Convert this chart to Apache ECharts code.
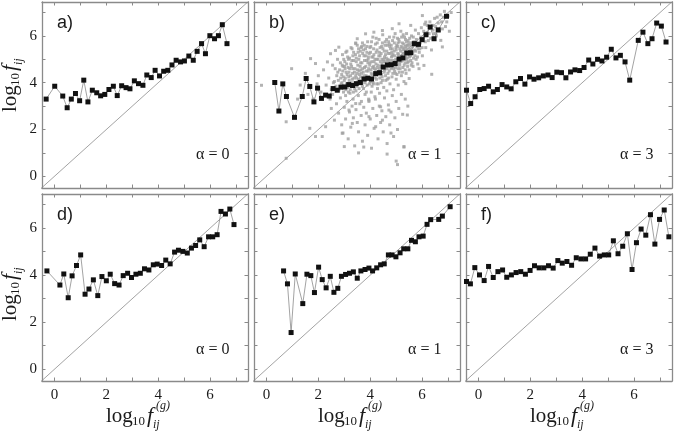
<!DOCTYPE html>
<html>
<head>
<meta charset="utf-8">
<script src="https://cdn.jsdelivr.net/npm/echarts@6/dist/echarts.min.js"></script>
<style>html,body{margin:0;padding:0;background:#fff;}#c{width:675px;height:433px;}</style>
</head>
<body>
<div id="c"></div>
<script>
// ---------- DATA ----------
const labelTicks = [0, 2, 4, 6];
const allTicks = [0, 1, 2, 3, 4, 5, 6, 7];
const panelLabels = ['a)', 'b)', 'c)', 'd)', 'e)', 'f)'];
const alphaLabels = ['α = 0', 'α = 1', 'α = 3', 'α = 0', 'α = 1', 'α = 3'];
const diagonal = [[-0.6, -0.6], [7.6, 7.6]];

const panelA = [[-0.32,3.30],[0.01,3.85],[0.32,3.43],[0.49,2.93],[0.65,3.30],[0.81,3.54],[0.97,3.23],[1.13,4.11],[1.29,3.18],[1.46,3.68],[1.63,3.57],[1.78,3.44],[1.94,3.50],[2.10,3.71],[2.27,3.85],[2.42,3.45],[2.59,3.87],[2.76,3.79],[2.91,3.74],[3.08,4.08],[3.24,3.96],[3.41,3.89],[3.56,4.33],[3.73,4.22],[3.88,4.53],[4.05,4.29],[4.21,4.49],[4.37,4.53],[4.53,4.76],[4.69,4.96],[4.86,4.89],[5.01,4.93],[5.18,5.14],[5.35,4.96],[5.50,5.34],[5.67,5.67],[5.82,5.24],[5.99,6.01],[6.17,5.88],[6.32,6.01],[6.47,6.48],[6.65,5.67]];

const panelB = [[0.32,4.01],[0.48,2.79],[0.63,3.95],[0.77,3.41],[1.08,2.52],[1.38,3.41],[1.53,4.18],[1.67,3.84],[1.83,3.18],[1.97,3.77],[2.12,3.33],[2.28,3.47],[2.42,3.43],[2.57,3.75],[2.73,3.68],[2.87,3.81],[3.02,3.82],[3.17,3.92],[3.32,3.88],[3.46,3.96],[3.62,4.01],[3.76,4.16],[3.91,4.19],[4.05,4.16],[4.21,4.39],[4.36,4.43],[4.50,4.67],[4.66,4.76],[4.81,4.77],[4.96,4.82],[5.11,5.01],[5.26,5.06],[5.41,5.27],[5.56,5.28],[5.70,5.67],[5.86,5.64],[6.00,5.84],[6.15,6.05],[6.31,6.38],[6.46,5.88],[6.62,6.26],[6.94,6.84]];

const panelC = [[-0.46,3.68],[-0.30,3.11],[-0.13,3.40],[0.05,3.71],[0.22,3.75],[0.39,3.85],[0.57,3.61],[0.73,3.71],[0.91,3.92],[1.09,3.82],[1.26,3.74],[1.44,4.04],[1.62,4.18],[1.79,3.94],[1.97,4.25],[2.14,4.15],[2.32,4.21],[2.50,4.29],[2.68,4.33],[2.84,4.22],[3.02,4.45],[3.20,4.43],[3.37,4.21],[3.55,4.46],[3.72,4.55],[3.90,4.52],[4.07,4.65],[4.25,4.97],[4.41,4.80],[4.59,5.00],[4.76,4.93],[4.94,5.09],[5.12,5.43],[5.30,5.06],[5.47,5.17],[5.65,4.89],[5.83,4.11],[6.16,5.81],[6.34,6.16],[6.53,5.67],[6.69,5.88],[6.87,6.55],[7.05,6.42],[7.23,5.74]];

const panelD = [[-0.29,4.18],[0.21,3.58],[0.36,4.05],[0.53,3.04],[0.68,3.97],[0.85,4.41],[1.01,4.86],[1.18,3.19],[1.33,3.41],[1.50,3.80],[1.67,3.13],[1.83,3.94],[2.00,3.76],[2.15,4.04],[2.32,3.64],[2.49,3.58],[2.65,3.98],[2.82,4.08],[2.97,3.90],[3.14,4.04],[3.31,4.08],[3.47,4.27],[3.64,4.22],[3.81,4.44],[3.96,4.47],[4.13,4.41],[4.29,4.64],[4.46,4.48],[4.63,4.98],[4.78,5.06],[4.95,5.01],[5.12,4.94],[5.28,5.15],[5.44,5.26],[5.60,5.50],[5.77,5.21],[5.94,5.63],[6.10,5.63],[6.27,5.72],[6.42,6.71],[6.59,6.60],[6.76,6.81],[6.92,6.15]];

const panelE = [[0.66,4.18],[0.81,3.63],[0.95,1.56],[1.11,4.05],[1.40,2.79],[1.56,4.04],[1.71,3.98],[1.85,3.26],[2.01,4.34],[2.15,3.81],[2.30,3.46],[2.46,3.95],[2.60,3.27],[2.75,3.44],[2.89,3.95],[3.05,4.03],[3.20,4.08],[3.35,4.14],[3.50,3.87],[3.64,4.18],[3.80,4.24],[3.95,4.30],[4.09,4.18],[4.25,4.31],[4.40,4.44],[4.54,4.48],[4.70,4.86],[4.84,4.86],[4.99,4.78],[5.15,4.95],[5.29,5.12],[5.45,5.12],[5.59,5.48],[5.74,5.42],[5.88,5.63],[6.04,5.66],[6.19,6.16],[6.33,6.36],[6.64,6.37],[6.78,6.51],[7.08,6.91]];

const panelF = [[-0.46,3.73],[-0.31,3.63],[-0.14,4.32],[0.04,4.01],[0.22,3.77],[0.39,4.37],[0.57,3.90],[0.75,4.15],[0.93,4.22],[1.09,3.91],[1.27,4.01],[1.45,4.11],[1.63,4.15],[1.81,4.04],[1.99,4.20],[2.16,4.40],[2.34,4.31],[2.52,4.31],[2.70,4.40],[2.88,4.30],[3.06,4.62],[3.23,4.51],[3.41,4.58],[3.59,4.42],[3.77,4.74],[3.95,4.69],[4.13,4.69],[4.31,4.89],[4.49,5.15],[4.67,4.81],[4.85,4.86],[5.02,4.86],[5.20,5.46],[5.38,4.91],[5.56,5.23],[5.74,5.76],[5.92,4.24],[6.09,5.38],[6.27,5.96],[6.45,5.70],[6.63,6.57],[6.80,5.32],[6.98,6.37],[7.16,6.77],[7.34,5.63]];

// gray cloud of individual links in panel b
const cloudB = [
[2.62,4.05],[2.65,4.6],[2.68,3.85],[2.71,4.3],[2.74,5.0],[2.77,4.1],[2.8,3.7],[2.82,4.55],[2.85,4.85],[2.88,3.95],[2.9,4.35],[2.93,5.2],[2.95,4.7],[2.97,3.6],
[3.0,4.1],[3.02,4.9],[3.05,3.45],[3.07,4.45],[3.1,5.35],[3.12,3.8],[3.15,4.65],[3.17,4.25],[3.2,5.05],[3.22,3.55],[3.25,4.8],[3.27,4.0],[3.3,5.45],[3.32,4.4],[3.34,3.3],[3.36,4.95],[3.38,3.9],
[3.41,4.6],[3.43,5.2],[3.45,3.65],[3.47,4.2],[3.5,5.6],[3.52,4.75],[3.54,3.45],[3.56,5.0],[3.58,4.35],[3.6,3.95],[3.62,5.35],[3.64,4.55],[3.66,3.2],[3.68,4.85],[3.7,5.7],[3.72,4.15],
[3.74,3.75],[3.76,5.15],[3.78,4.65],[3.8,3.5],[3.82,5.45],[3.84,4.3],[3.86,4.95],[3.88,3.9],[3.9,5.75],[3.92,4.5],[3.94,3.3],[3.96,5.25],[3.98,4.75],[4.0,4.05],
[4.02,5.55],[4.04,3.6],[4.06,4.9],[4.08,4.35],[4.1,5.95],[4.12,3.95],[4.14,5.2],[4.16,4.6],[4.18,3.4],[4.2,5.65],[4.22,4.8],[4.24,4.15],[4.26,5.4],[4.28,3.75],[4.3,5.0],
[4.32,4.45],[4.34,5.85],[4.36,3.55],[4.38,5.15],[4.4,4.7],[4.42,4.0],[4.44,5.55],[4.46,4.25],[4.48,6.05],[4.5,4.9],[4.52,3.8],[4.54,5.35],[4.56,4.55],[4.58,5.75],[4.6,4.1],
[4.62,5.05],[4.64,3.65],[4.66,5.6],[4.68,4.4],[4.7,5.25],[4.72,4.85],[4.74,5.95],[4.76,3.95],[4.78,5.45],[4.8,4.6],[4.82,5.1],[4.84,4.25],[4.86,5.8],[4.88,4.95],[4.9,3.7],
[4.92,5.35],[4.94,4.5],[4.96,6.1],[4.98,5.0],[5.0,4.15],[5.02,5.6],[5.04,4.75],[5.06,5.25],[5.08,3.9],[5.1,5.85],[5.12,4.45],[5.14,5.45],[5.16,4.95],[5.18,6.2],[5.2,4.3],
[5.22,5.15],[5.24,5.7],[5.26,4.65],[5.28,5.4],[5.3,4.05],[5.32,5.95],[5.34,4.85],[5.36,5.55],[5.38,4.4],[5.4,6.1],[5.42,5.05],[5.44,4.7],[5.46,5.8],[5.48,5.3],
[5.5,4.55],[5.53,5.6],[5.56,4.95],[5.59,6.0],[5.62,5.25],[5.65,4.7],[5.68,5.75],[5.71,5.4],[5.74,6.25],[5.77,5.0],[5.8,5.55],[5.83,4.8],[5.86,6.1],[5.89,5.3],
[5.93,5.7],[5.97,6.35],[6.01,5.15],[6.05,5.9],[6.1,6.5],[6.14,5.5],[6.19,6.15],[6.24,5.8],[6.3,6.6],[6.36,5.4],[6.42,6.25],[6.48,6.75],
[6.55,6.0],[6.62,6.55],[6.7,6.9],[6.78,6.3],[6.86,7.05],[6.95,6.6],[7.05,6.2],[7.12,7.0],
[3.03,4.6],[3.08,3.95],[3.13,5.1],[3.18,4.45],[3.23,3.7],[3.28,4.7],[3.33,5.15],[3.37,4.2],[3.42,3.95],[3.46,4.9],[3.49,4.4],[3.53,5.3],[3.57,3.75],[3.61,4.7],[3.65,5.5],[3.69,4.0],[3.73,4.45],[3.77,5.6],[3.81,4.1],[3.85,3.6],[3.87,5.3],[3.91,4.85],[3.95,4.25],[3.99,5.5],[4.03,4.55],[4.07,3.85],[4.11,5.1],[4.15,4.9],[4.19,4.4],[4.23,5.9],[4.27,4.65],[4.31,3.95],[4.35,5.3],[4.39,4.9],[4.43,4.35],[4.47,5.7],[4.51,4.65],[4.55,5.1],[4.59,4.3],[4.63,5.85],[4.67,4.95],[4.71,4.2],[4.75,5.55],[4.79,4.8],[4.83,5.3],[4.87,4.4],[4.91,5.95],[4.95,4.85],[4.99,5.5],[5.03,4.35],[5.07,5.7],[5.11,5.1],[5.15,4.6],[5.19,5.55],[5.23,4.95],[5.27,6.05],[5.31,5.25],[5.35,4.55],[5.39,5.75],[5.43,5.45],[5.47,4.9],[5.52,5.9],[5.57,5.4],[5.61,4.85],[5.66,5.95],[5.72,5.15],[5.78,5.85],[5.84,5.45],
[2.75,4.45],[2.86,4.2],[2.92,4.75],[2.98,5.0],[3.06,5.3],[3.16,3.6],[3.26,5.5],[3.35,3.6],[3.44,5.7],[3.55,4.15],[3.63,4.25],[3.71,5.25],[3.83,4.7],[3.93,5.1],[4.05,5.75],[4.13,4.7],[4.25,5.0],[4.37,4.2],[4.45,5.0],[4.57,4.9],[4.65,4.6],[4.73,5.65],[4.85,5.15],[4.97,4.65],[5.05,5.9],[5.13,4.85],[5.25,5.5],[5.37,5.1],[5.45,5.6],[5.55,5.15],[5.63,5.55],
[2.91,4.0],[2.94,4.5],[2.96,4.25],[2.99,3.8],[3.01,4.7],[3.04,4.2],[3.06,3.7],[3.09,4.8],[3.11,4.35],[3.14,3.9],[3.16,5.0],[3.19,4.1],[3.21,4.6],[3.24,4.3],[3.26,3.85],[3.29,4.95],[3.31,4.15],[3.33,4.6],[3.36,5.3],[3.39,4.45],[3.4,3.75],[3.44,4.3],[3.46,5.05],[3.48,3.85],[3.51,4.55],[3.53,4.05],[3.55,5.45],[3.57,4.5],[3.59,5.15],[3.61,4.1],[3.63,4.85],[3.66,4.4],[3.67,5.55],[3.7,3.85],[3.71,4.6],[3.74,5.4],[3.76,4.3],[3.78,4.95],[3.8,4.0],[3.83,5.15],[3.85,4.5],[3.88,5.55],[3.89,4.2],[3.92,5.0],[3.94,4.6],[3.97,3.95],[3.99,4.85],[4.01,5.3],[4.04,4.4],[4.06,5.1],[4.09,4.65],[4.11,4.0],[4.13,5.45],[4.16,4.25],[4.18,5.0],[4.21,4.55],[4.23,5.3],[4.25,3.95],[4.27,5.7],[4.3,4.75],[4.33,5.15],[4.35,4.6],[4.38,5.5],[4.4,4.35],[4.42,5.25],[4.45,4.8],[4.47,4.1],[4.49,5.45],[4.52,5.0],[4.54,4.45],[4.57,5.6],[4.59,5.2],[4.61,4.7],[4.64,5.35],[4.66,4.15],[4.69,5.0],[4.71,5.75],[4.73,4.5],[4.76,5.25],[4.78,4.95],[4.81,5.6],[4.83,4.65],[4.85,5.45],[4.88,5.2],[4.9,4.6],[4.93,5.7],[4.95,5.15],[4.97,4.4],[5.0,5.4],[5.02,4.9],[5.05,5.55],[5.07,4.6],[5.09,5.2],[5.12,5.75],[5.14,4.75],[5.17,5.35],[5.19,4.9],[5.21,5.95],[5.24,4.45],[5.26,5.25],[5.29,5.65],[5.31,4.75],[5.33,5.45],[5.36,5.85],[5.38,5.0],[5.41,5.6],[5.43,4.85],[5.46,5.3],[5.49,5.7],[5.51,5.1],[5.54,5.45],[5.58,4.75],[5.6,5.7],[5.64,5.3],[5.67,5.05],[5.7,5.6],[5.75,5.35],[5.79,5.7],[5.82,5.1],[5.87,5.6],[5.91,5.45],[5.95,5.95],[6.0,5.5],[6.06,6.2],[6.12,5.75],[6.2,6.45],[6.27,6.1],[6.33,5.9],[6.4,6.45],[6.46,6.1],[6.52,6.4],[6.58,6.8],[6.66,6.2],[6.75,6.6],[6.82,6.8],[6.9,6.4],[7.0,6.85],
[2.45,3.3],[2.5,2.9],[2.55,3.5],[2.62,2.4],[2.7,3.1],[2.78,2.7],[2.85,3.35],[2.9,2.2],[2.95,1.85],[3.0,2.95],[3.05,2.45],[3.1,3.2],[3.15,1.6],[3.2,2.75],[3.25,2.1],[3.3,3.0],[3.35,2.5],[3.4,1.3],[3.45,2.85],[3.5,2.3],[3.55,1.9],[3.6,3.1],[3.65,2.6],[3.7,1.5],[3.75,2.95],[3.8,2.2],[3.85,2.7],[3.9,1.75],[3.95,3.2],[4.0,2.45],[4.05,1.2],[4.1,2.9],[4.15,2.05],[4.2,3.3],[4.25,2.6],[4.3,1.6],[4.35,3.0],[4.4,2.3],[4.45,2.8],[4.5,1.9],[4.55,3.35],[4.6,2.55],[4.65,1.4],[4.7,3.05],[4.75,2.2],[4.8,2.75],[4.85,3.45],[4.9,1.7],[4.95,2.5],[5.0,3.2],[5.05,2.0],[5.1,2.9],[5.2,3.5],[5.25,2.65],[5.35,3.3],[5.45,3.0],[5.3,1.25],[5.0,0.65],[5.05,0.5],[4.65,0.95],[4.8,1.85],[3.75,1.25],[3.55,1.0],[3.0,1.27],[2.92,1.84],[2.15,1.7],[2.28,2.12],
[-0.19,3.89],[0.76,2.33],[0.76,0.77],[0.97,4.6],[1.67,2.05],[1.89,1.70],[1.7,5.03],[1.89,4.82],[2.0,4.3],[2.1,3.6],[2.2,4.55],[2.3,3.9],[2.35,4.89],[2.4,4.2],[2.47,5.24],[2.55,4.75],[2.66,5.38],[2.79,5.52],[2.5,3.7],[2.58,4.0],[3.44,5.67],[3.5,5.88],[3.82,6.09],[4.14,6.16],[4.47,6.23],[4.85,6.31],[5.11,6.52],[5.56,6.45],[6.01,6.87],[6.14,6.59],[6.53,6.09],[6.72,5.81],[6.78,5.53],[6.37,4.36],[6.07,4.74],[5.88,4.60],[5.5,4.18],[5.37,3.96],[5.43,2.62],[5.3,1.27],[3.18,2.83],[3.44,3.11],[3.31,2.26],[3.95,2.55],[4.21,2.12],[4.47,2.40],[4.72,2.83],[4.40,2.97],[3.95,3.25],[1.3,3.9],[1.5,4.4],[1.6,3.5],[1.8,3.3],[1.95,3.95],[1.2,3.3]
];

const panels = [panelA, panelB, panelC, panelD, panelE, panelF];

// ---------- LAYOUT ----------
const X_MIN = -0.48, X_MAX = 7.46, Y_MIN = -0.5, Y_MAX = 7.45;
const lefts = [42, 254, 466], tops = [2, 194], W = 206, Hs = [186, 187];
const AX = '#8a8a8a', TXT = '#1a1a1a', SERIF = '"Liberation Serif","Times New Roman",serif';

const grid = [], xAxis = [], yAxis = [], series = [], graphic = [];

function mkAxis(gi, pos, isY, showLabel) {
  return {
    type: 'value', gridIndex: gi, position: pos,
    min: isY ? Y_MIN : X_MIN, max: isY ? Y_MAX : X_MAX,
    splitLine: { show: false },
    axisLine: { show: true, onZero: false, lineStyle: { color: AX, width: 1.3 } },
    axisTick: { show: true, inside: true, length: 3.5, customValues: allTicks, lineStyle: { color: AX, width: 1 } },
    axisLabel: { show: showLabel, customValues: labelTicks, margin: isY ? 5 : 7, fontFamily: SERIF, fontSize: 15, color: TXT }
  };
}

for (let i = 0; i < 6; i++) {
  const r = Math.floor(i / 3), c = i % 3;
  grid.push({ left: lefts[c], top: tops[r], width: W, height: Hs[r] });
  const xb = xAxis.length, yb = yAxis.length;
  xAxis.push(mkAxis(i, 'bottom', false, r === 1));
  xAxis.push(mkAxis(i, 'top', false, false));
  yAxis.push(mkAxis(i, 'left', true, c === 0));
  yAxis.push(mkAxis(i, 'right', true, false));

  series.push({ type: 'line', xAxisIndex: xb, yAxisIndex: yb, data: diagonal, symbol: 'none', silent: true,
    lineStyle: { color: '#8c8c8c', width: 0.8 }, z: 1 });
  if (i === 1) {
    series.push({ type: 'scatter', xAxisIndex: xb, yAxisIndex: yb, data: cloudB, symbol: 'rect', symbolSize: 3,
      itemStyle: { color: '#a0a0a0' }, silent: true, z: 2 });
  }
  series.push({ type: 'line', xAxisIndex: xb, yAxisIndex: yb, data: panels[i], symbol: 'rect', symbolSize: 5,
    showAllSymbol: true, itemStyle: { color: '#111', borderWidth: 0 }, lineStyle: { color: '#8c8c8c', width: 0.8 }, z: 3 });

  graphic.push({ type: 'text', left: lefts[c] + 15, top: tops[r] + 12,
    style: { text: panelLabels[i], font: '18px "Liberation Sans", Arial, sans-serif', fill: TXT } });
  graphic.push({ type: 'text', left: lefts[c] + 154, top: tops[r] + (r === 0 ? 145 : 148),
    style: { text: alphaLabels[i], font: '16px ' + SERIF, fill: TXT } });
}

// axis titles: log10 f_ij (y) and log10 f_ij^(g) (x)
function titleParts(withG) {
  const parts = [
    { type: 'text', x: 0, y: 0, style: { text: 'log', font: '21px ' + SERIF, fill: TXT, verticalAlign: 'middle' } },
    { type: 'text', x: 26, y: 6, style: { text: '10', font: '13px ' + SERIF, fill: TXT, verticalAlign: 'middle' } },
    { type: 'text', x: 41, y: 0, style: { text: 'f', font: 'italic 22px ' + SERIF, fill: TXT, verticalAlign: 'middle' } },
    { type: 'text', x: 47, y: 9, style: { text: 'ij', font: 'italic 12px ' + SERIF, fill: TXT, verticalAlign: 'middle' } }
  ];
  if (withG) parts.push({ type: 'text', x: 50, y: -10, style: { text: '(g)', font: 'italic 12px ' + SERIF, fill: TXT, verticalAlign: 'middle' } });
  return parts;
}
for (let c = 0; c < 3; c++) {
  graphic.push({ type: 'group', x: lefts[c] + 64, y: 416, children: titleParts(true) });
}
[112, 321].forEach(function (yy) {
  graphic.push({ type: 'group', x: 10, y: yy, rotation: Math.PI / 2, children: titleParts(false) });
});

const chart = echarts.init(document.getElementById('c'), null, { renderer: 'canvas' });
chart.setOption({ animation: false, backgroundColor: '#fff', grid, xAxis, yAxis, series, graphic });
</script>
</body>
</html>
